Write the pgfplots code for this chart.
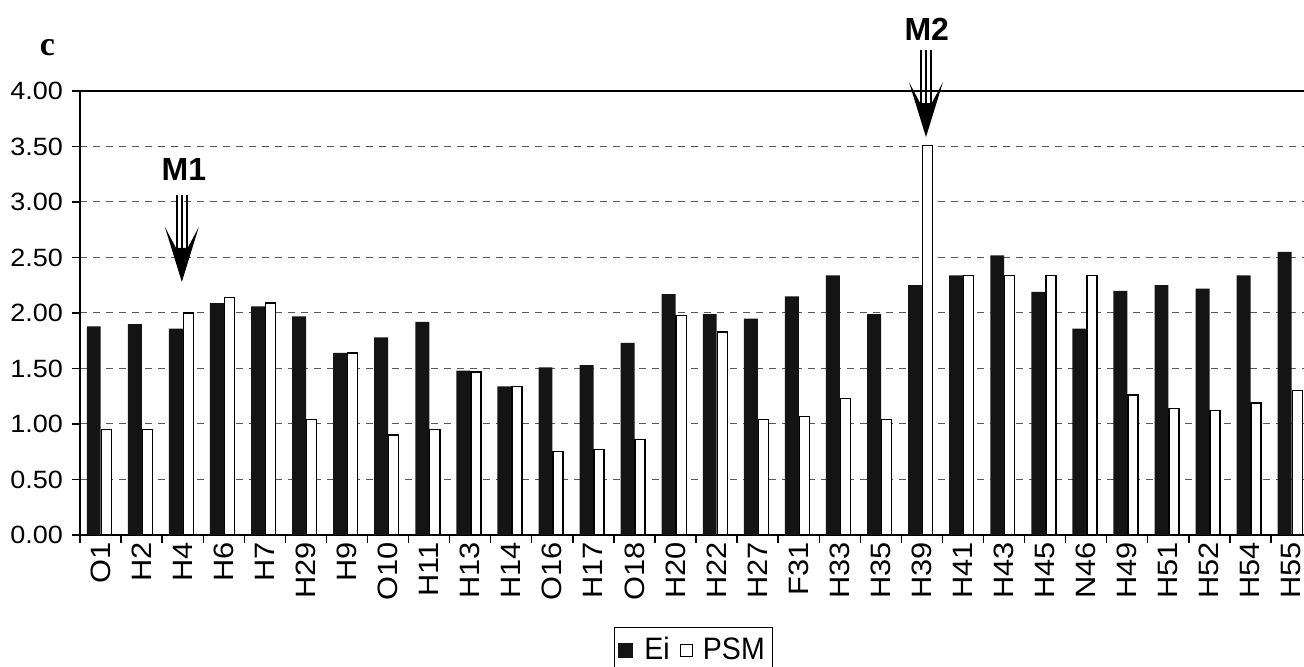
\documentclass[border=0pt]{standalone}
\usepackage{fontspec}
\setmainfont{Liberation Sans}
\newfontfamily\serifb{Liberation Serif}
\newfontfamily\widesans[FakeStretch=1.08]{Liberation Sans}
\newfontfamily\tallsans[FakeStretch=1.1]{Liberation Sans}
\newfontfamily\narrowsans[FakeStretch=0.92]{Liberation Sans}
\usepackage{pgfplots}
\pgfplotsset{compat=1.18}
\usepackage{pgfplotstable}

\pgfplotstableread{
x ei psm
0 1.88 0.95
1 1.90 0.95
2 1.86 2.00
3 2.09 2.14
4 2.06 2.09
5 1.97 1.04
6 1.64 1.64
7 1.78 0.90
8 1.92 0.95
9 1.48 1.47
10 1.34 1.34
11 1.51 0.75
12 1.53 0.77
13 1.73 0.86
14 2.17 1.98
15 1.99 1.83
16 1.95 1.04
17 2.15 1.07
18 2.34 1.23
19 1.99 1.04
20 2.25 3.51
21 2.34 2.34
22 2.52 2.34
23 2.19 2.34
24 1.86 2.34
25 2.20 1.26
26 2.25 1.14
27 2.22 1.12
28 2.34 1.19
29 2.55 1.30
}\datatable

\newcommand{\marrow}[2]{%
  \begin{scope}[shift={(axis cs:#1,#2)}]
    \fill[black] (0pt,0pt) -- (8.5pt,27.5pt) -- (2.9pt,17pt) -- (-2.9pt,17pt) -- (-8.5pt,27.5pt) -- cycle;
    \draw[line width=1.1pt] (-2.6pt,16pt) -- (-2.6pt,43.5pt);
    \draw[line width=1.1pt] (0pt,10pt) -- (0pt,43.5pt);
    \draw[line width=1.1pt] (2.6pt,16pt) -- (2.6pt,43.5pt);
  \end{scope}}

\begin{document}
\begin{tikzpicture}
\useasboundingbox (-40pt,-66pt) rectangle (612pt,267.5pt);
\begin{axis}[
  at={(0pt,0pt)}, anchor=south west,
  scale only axis, width=616pt, height=222pt,
  xmin=-0.5, xmax=29.5, ymin=0, ymax=4,
  axis x line*=bottom, axis y line*=left,
  axis line style={line width=0.7pt},
  clip=false,
  ybar,
  tick align=outside,
  major tick length=4pt,
  tick style={black, line width=0.7pt},
  xtick={-0.5,0.5,...,29.5},
  xticklabels={},
  xticklabel style={rotate=90, anchor=east, inner ysep=0.5pt, inner xsep=3.5pt, font=\tallsans\fontsize{14}{16}\selectfont},
  extra x ticks={0,1,...,29},
  extra x tick labels={O1,H2,H4,H6,H7,H29,H9,O10,H11,H13,H14,O16,H17,O18,H20,H22,H27,F31,H33,H35,H39,H41,H43,H45,N46,H49,H51,H52,H54,H55},
  extra x tick style={major tick length=0pt},
  ytick={0,0.5,...,4},
  yticklabel style={font=\widesans\fontsize{12.5}{14}\selectfont, xshift=-1pt, /pgf/number format/fixed, /pgf/number format/fixed zerofill, /pgf/number format/precision=2, /pgf/number format/assume math mode=true},
  ymajorgrids,
  major grid style={black!65, line width=0.5pt, dash pattern=on 3.5pt off 3pt},
  legend columns=2,
  legend style={at={(0.498,-0.207)}, anchor=north, draw=black, line width=0.5pt, font=\narrowsans\fontsize{15.5}{17}\selectfont, inner xsep=2pt, inner ysep=3pt, /tikz/column 2/.style={column sep=3pt}},
]
\addplot[fill=black!92, draw=none, bar width=0.34, bar shift=-0.165,
  legend image code/.code={\fill[black!92] (0pt,-3.7pt) rectangle (7.4pt,3.7pt); \path (11pt,0pt);}]
  table[x=x, y=ei] {\datatable};
\addplot[fill=white, draw=black, line width=0.7pt, bar width=0.245, bar shift=0.14,
  legend image code/.code={\draw[black, line width=0.6pt, fill=white] (1pt,-3pt) rectangle (7pt,3pt); \path (10pt,0pt);}]
  table[x=x, y=psm] {\datatable};
\legend{Ei, PSM}
\draw[line width=0.8pt] (rel axis cs:0,1) -- (rel axis cs:1,1);
\marrow{1.98}{2.28}
\marrow{20.10}{3.585}
\node[font=\bfseries\fontsize{16}{18}\selectfont] at (axis cs:2.03,3.29) {M1};
\node[font=\bfseries\fontsize{16}{18}\selectfont] at (axis cs:20.12,4.56) {M2};
\end{axis}
\node[font=\serifb\bfseries\fontsize{17}{19}\selectfont] at (-16.25pt,243.75pt) {c};
\end{tikzpicture}
\end{document}
